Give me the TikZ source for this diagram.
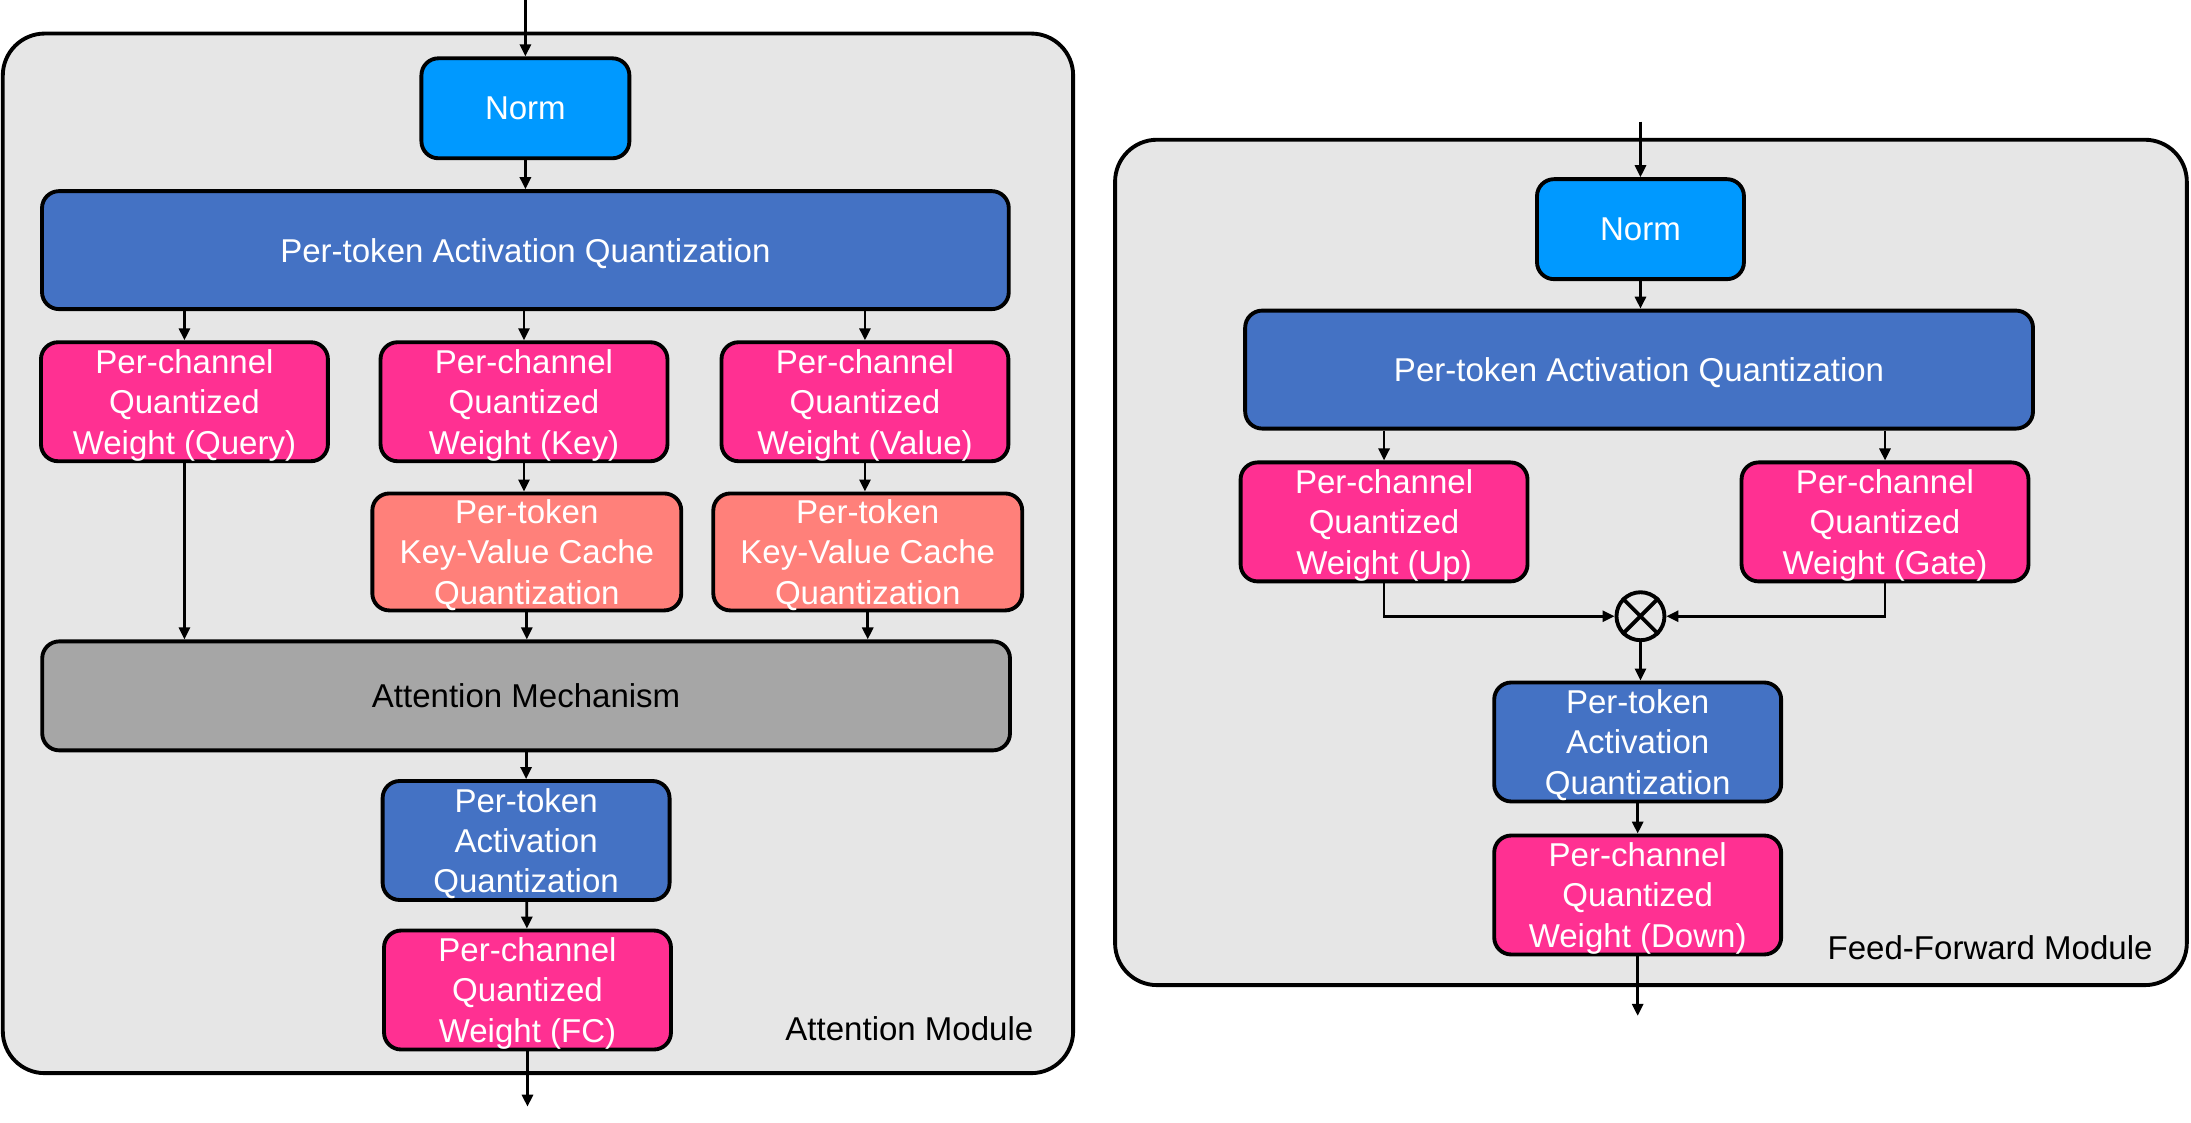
\documentclass[tikz,border=0pt]{standalone}
\usepackage{fontspec}
\setmainfont{Liberation Sans}
\usetikzlibrary{arrows.meta}
\definecolor{normblue}{RGB}{0,153,255}
\definecolor{actblue}{RGB}{68,114,196}
\definecolor{wpink}{RGB}{255,48,146}
\definecolor{kvsalmon}{RGB}{255,128,122}
\definecolor{mechgray}{RGB}{166,166,166}
\definecolor{modgray}{RGB}{230,230,230}
\begin{document}
\begin{tikzpicture}[x=0.01397cm,y=-0.01397cm,
    box/.style={draw,line width=1.1pt,rounded corners=0.17cm,align=center,
        text=white,inner sep=0pt,text depth=0pt,font=\fontsize{9.4}{11.5}\selectfont},
    normbox/.style={box,fill=normblue,minimum width=2.08cm,minimum height=1.0cm},
    widebox/.style={box,fill=actblue,minimum height=1.18cm},
    smallbox/.style={box,minimum width=2.87cm,minimum height=1.19cm},
    wbox/.style={smallbox,fill=wpink},
    abox/.style={smallbox,fill=actblue},
    kvbox/.style={box,fill=kvsalmon,minimum width=3.09cm,minimum height=1.17cm},
    module/.style={draw,line width=1.1pt,fill=modgray,rounded corners=0.42cm},
    arr/.style={-{Triangle[length=0.12cm,width=0.11cm]},line width=0.8pt},
    modlabel/.style={anchor=east,inner sep=0pt,font=\fontsize{9.4}{11.5}\selectfont}]
\useasboundingbox (0,0) rectangle (1568,803);

% attention module
\draw[module] (2,24) rectangle (768,768);
\coordinate (ain) at (376,0);
\node[normbox] (anorm) at (376,77.5) {Norm};
\node[widebox,minimum width=9.67cm] (aact) at (376,179) {Per-token Activation Quantization};
\node[wbox] (wq) at (132,287.5) {Per-channel\\Quantized\\Weight (Query)};
\node[wbox] (wk) at (375,287.5) {Per-channel\\Quantized\\Weight (Key)};
\node[wbox] (wv) at (619,287.5) {Per-channel\\Quantized\\Weight (Value)};
\node[kvbox] (kvk) at (377,395) {Per-token\\Key-Value Cache\\Quantization};
\node[kvbox] (kvv) at (621,395) {Per-token\\Key-Value Cache\\Quantization};
\node[box,fill=mechgray,text=black,minimum width=9.68cm,minimum height=1.09cm] (mech) at (376.5,498) {Attention Mechanism};
\node[abox] (aact2) at (376.5,601.5) {Per-token\\Activation\\Quantization};
\node[wbox] (wfc) at (377.5,708.5) {Per-channel\\Quantized\\Weight (FC)};
\coordinate (aout) at (377.5,792);
\node[modlabel] (alab) at (740,736) {Attention Module};

\draw[arr] (ain) -- (anorm);
\draw[arr] (anorm) -- (anorm |- aact.north);
\draw[arr] (aact.south -| wq) -- (wq);
\draw[arr] (aact.south -| wk) -- (wk);
\draw[arr] (aact.south -| wv) -- (wv);
\draw[arr] (wq) -- (wq |- mech.north);
\draw[arr] (wk) -- (wk |- kvk.north);
\draw[arr] (wv) -- (wv |- kvv.north);
\draw[arr] (kvk) -- (kvk |- mech.north);
\draw[arr] (kvv) -- (kvv |- mech.north);
\draw[arr] (mech.south -| aact2) -- (aact2);
\draw[arr] (aact2) -- (wfc);
\draw[arr] (wfc) -- (aout);

% feed-forward module
\draw[module] (798,100) rectangle (1565,705);
\coordinate (fin) at (1174,87);
\node[normbox,minimum width=2.07cm] (fnorm) at (1174,164) {Norm};
\node[widebox,minimum width=7.88cm] (fact) at (1173,264.5) {Per-token Activation Quantization};
\node[wbox] (wup) at (990.5,373.5) {Per-channel\\Quantized\\Weight (Up)};
\node[wbox] (wgate) at (1349,373.5) {Per-channel\\Quantized\\Weight (Gate)};
\node[draw,circle,line width=1.1pt,inner sep=0pt,minimum size=0.48cm] (mul) at (1174,441) {};
\draw[line width=1.1pt] (mul.north west) -- (mul.south east) (mul.north east) -- (mul.south west);
\node[abox] (fact2) at (1172,531) {Per-token\\Activation\\Quantization};
\node[wbox] (wdown) at (1172,640.5) {Per-channel\\Quantized\\Weight (Down)};
\coordinate (fout) at (1172,727);
\node[modlabel] (flab) at (1541,678) {Feed-Forward Module};

\draw[arr] (fin) -- (fnorm);
\draw[arr] (fnorm) -- (fnorm |- fact.north);
\draw[arr] (fact.south -| wup) -- (wup);
\draw[arr] (fact.south -| wgate) -- (wgate);
\draw[arr] (wup) |- (mul);
\draw[arr] (wgate) |- (mul);
\draw[arr] (mul) -- (mul |- fact2.north);
\draw[arr] (fact2) -- (wdown);
\draw[arr] (wdown) -- (fout);
\end{tikzpicture}
\end{document}
